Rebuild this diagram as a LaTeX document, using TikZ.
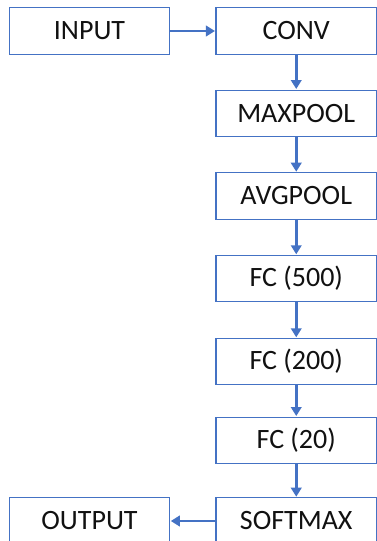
\documentclass[tikz,border=0pt]{standalone}
\usepackage{fontspec}
\setmainfont{Carlito}
\usetikzlibrary{arrows.meta}
\definecolor{obl}{HTML}{4472C4}
\definecolor{txt}{HTML}{111111}
\begin{document}
\begin{tikzpicture}[x=1pt,y=-1pt,
  layer/.style={draw=obl, line width=1.1pt, fill=white, minimum width=160.5pt, minimum height=46.5pt, inner sep=0pt, text=txt, font=\fontsize{28}{32}\selectfont},
  flow/.style={draw=obl, line width=2.8pt, -{Triangle[length=9pt,width=10.5pt]}, shorten >=0.5pt}]
\useasboundingbox (0,0) rectangle (377,541);
\fill[white] (0,0) rectangle (377,541);
\node[layer] (in) at (89.5,31) {INPUT};
\node[layer] (conv) at (296.25,31) {CONV};
\node[layer] (max) at (296.25,113.3) {MAXPOOL};
\node[layer] (avg) at (296.25,196) {AVGPOOL};
\node[layer] (fc5) at (296.25,278.6) {FC (500)};
\node[layer] (fc2) at (296.25,361.6) {FC (200)};
\node[layer] (fc20) at (296.25,440.3) {FC (20)};
\node[layer] (soft) at (296.25,521) {SOFTMAX};
\node[layer] (out) at (89.5,521) {OUTPUT};
\draw[flow] (in) -- (conv);
\draw[flow] (conv) -- (max);
\draw[flow] (max) -- (avg);
\draw[flow] (avg) -- (fc5);
\draw[flow] (fc5) -- (fc2);
\draw[flow] (fc2) -- (fc20);
\draw[flow] (fc20) -- (soft);
\draw[flow] (soft) -- (out);
\end{tikzpicture}
\end{document}
